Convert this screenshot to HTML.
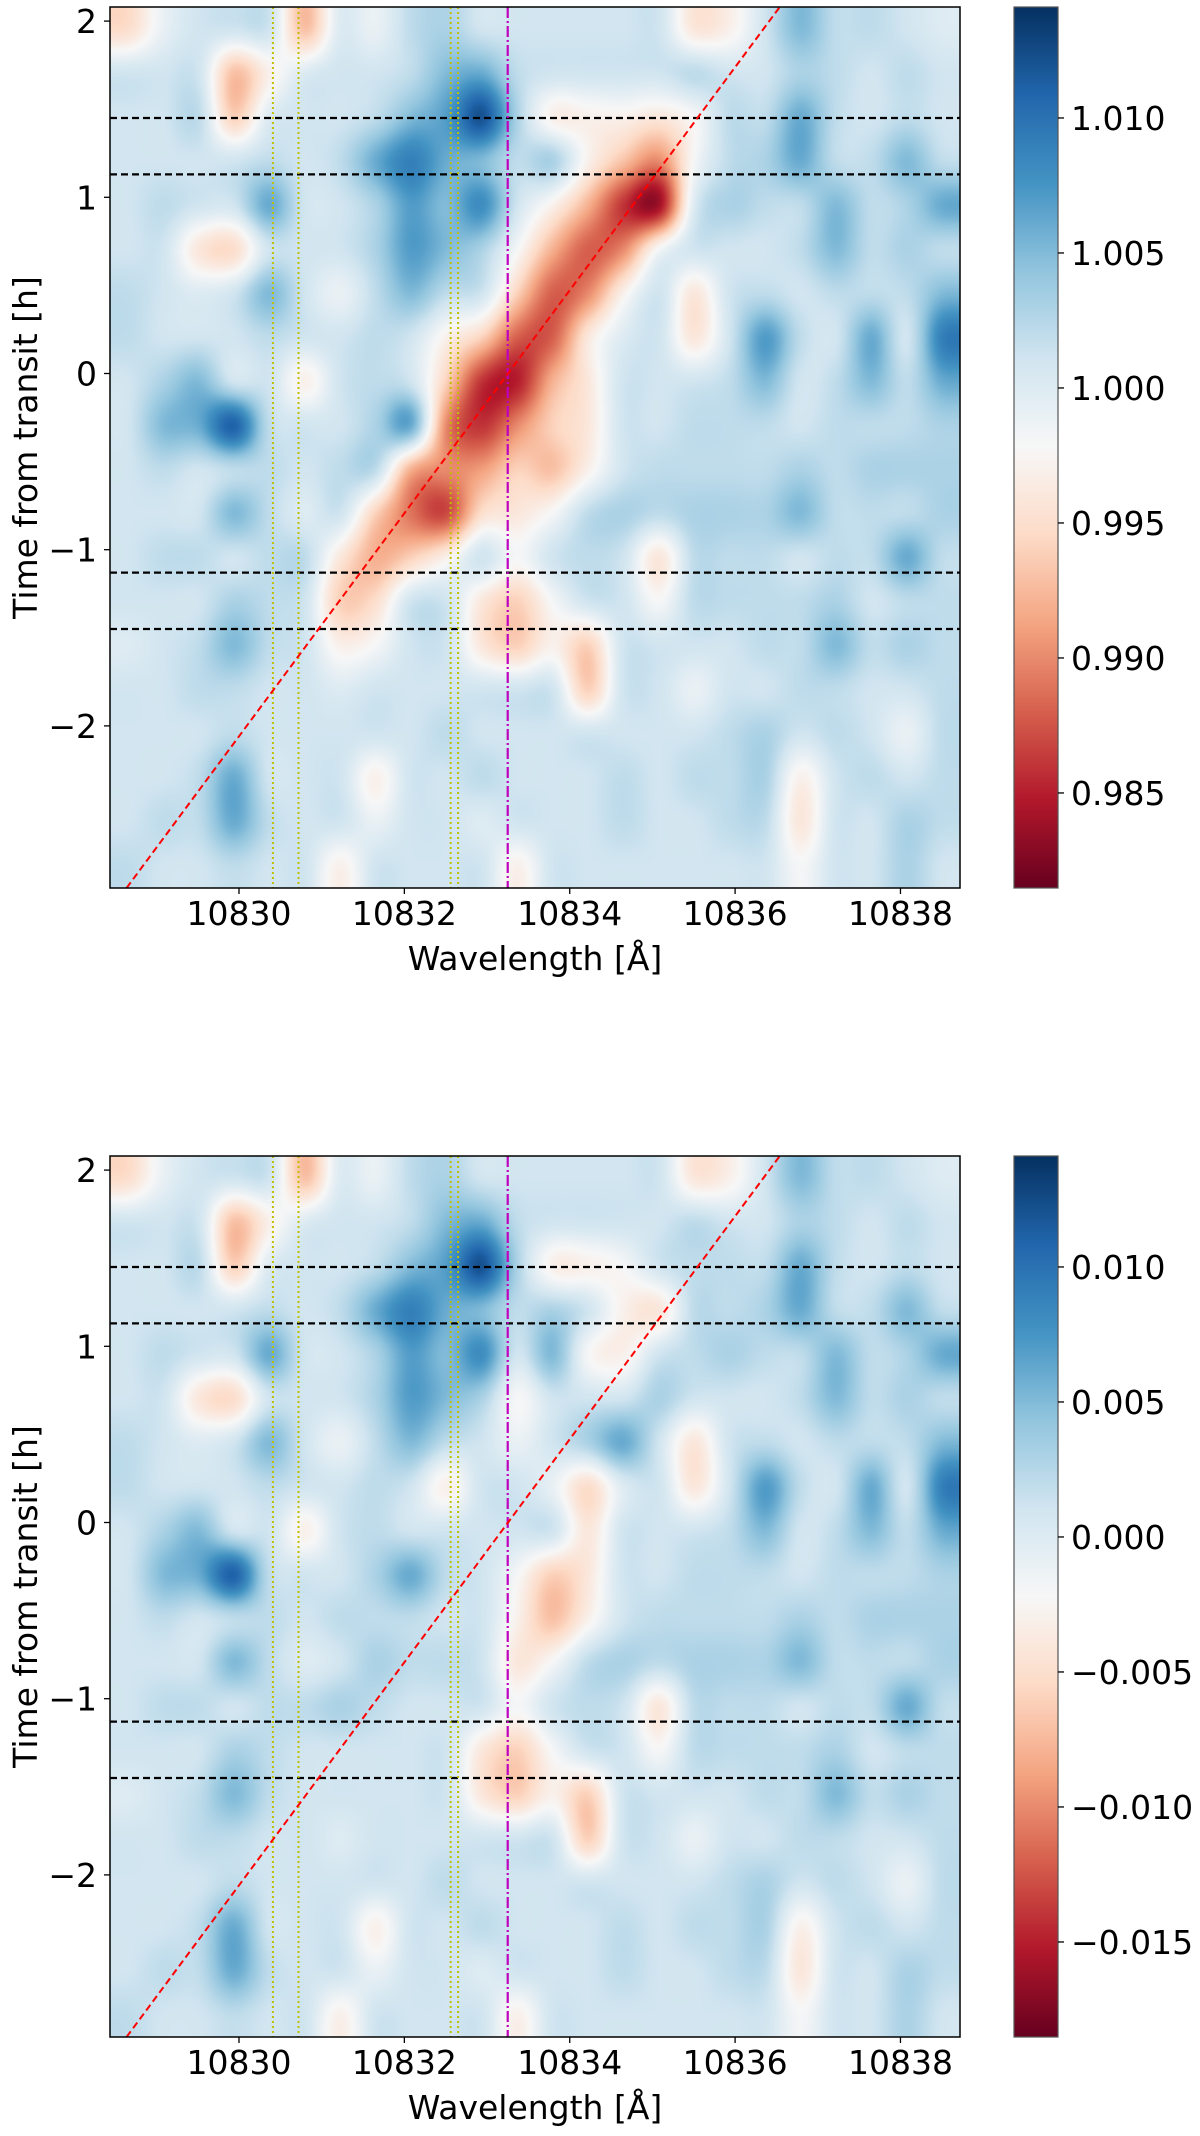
<!DOCTYPE html>
<html>
<head>
<meta charset="utf-8">
<style>
  html,body{margin:0;padding:0;background:#fff;}
  #page{position:relative;width:1200px;height:2136px;overflow:hidden;background:#fff;font-family:"DejaVu Sans","Liberation Sans",sans-serif;}
  canvas{position:absolute;}
  svg{position:absolute;left:0;top:0;}
</style>
</head>
<body>
<div id="page">
  <canvas id="hm1" width="850" height="881" style="left:110px;top:7px;"></canvas>
  <canvas id="hm2" width="850" height="881" style="left:110px;top:1156px;"></canvas>
  <svg id="ov" width="1200" height="2136"></svg>
</div>
<script>
// ---- data ----
const wavelengthTicks = [10830, 10832, 10834, 10836, 10838];
const timeTicks = [2, 1, 0, -1, -2];
const timeTickLabels = ["2", "1", "0", "\u22121", "\u22122"];
const cbTicksTop = [1.010, 1.005, 1.000, 0.995, 0.990, 0.985];
const cbTickLabelsTop = ["1.010", "1.005", "1.000", "0.995", "0.990", "0.985"];
const cbTicksBottom = [0.010, 0.005, 0.000, -0.005, -0.010, -0.015];
const cbTickLabelsBottom = ["0.010", "0.005", "0.000", "\u22120.005", "\u22120.010", "\u22120.015"];
const transitContacts = [1.45, 1.13, -1.13, -1.45];
const telluricLines = [10830.41, 10830.72, 10832.56, 10832.65];
const heliumLine = [10833.25];
const planetTrackTime = [-2.92, 2.08];
const planetTrackWave = [10828.64, 10836.54];
const wavelengthRange = [10828.44, 10838.72];
const timeRange = [-2.92, 2.08];
const colorRangeTop = [0.98148, 1.01411];
const colorRangeBottom = [-0.01852, 0.01411];

// grids in units of 1e-3 (top: flux-1, bottom: residual), rows from top (late time) to bottom
const gridTop = [
[-5,-1,1,1,1,-7,0,-1,2,3,1,1,1,1,1,1,-4,-3,1,5,2,2,1,0],
[1,1,1,-7,-3,0,1,1,2,5,6,2,1,1,1,1,2,1,1,3,2,1,2,1],
[1,1,2,-6,0,1,1,2,5,7,12,3,-3,-3,-3,-4,-2,2,2,6,2,1,2,1],
[1,1,1,1,2,1,2,6,9,6,5,2,3,-3,-7,-10,-2,2,3,6,2,2,5,2],
[1,2,1,1,6,1,1,3,7,5,8,1,-3,-8,-14,-16,0,3,2,2,5,2,3,6],
[1,1,-4,-5,1,1,1,3,7,5,3,-2,-8,-12,-10,-2,1,1,1,2,5,2,3,2],
[2,1,0,1,5,1,-1,2,5,2,1,-6,-12,-10,-3,1,-4,1,2,1,2,2,2,5],
[2,1,1,1,2,1,1,2,1,-3,-6,-12,-12,-4,0,1,-4,1,7,2,1,6,1,9],
[1,3,5,1,1,-3,1,2,1,-6,-14,-15,-8,-4,1,1,1,2,5,1,2,5,2,6],
[1,5,6,11,2,1,1,3,6,-10,-14,-10,-6,-4,1,1,2,2,2,1,2,2,2,3],
[1,2,1,2,2,1,2,2,-8,-10,-9,-6,-7,-3,1,2,2,2,2,3,2,3,3,3],
[1,1,1,5,2,0,1,-6,-11,-13,-5,-4,-2,2,3,2,3,3,3,5,2,2,2,3],
[1,2,2,1,2,2,-4,-8,-6,-3,1,-2,1,2,1,-4,2,2,2,1,2,2,6,2],
[1,1,1,3,2,1,-6,-5,1,1,-4,-6,-2,1,1,-2,2,2,2,2,3,1,2,2],
[0,1,2,5,2,1,-3,-2,1,1,-4,-6,-3,-6,1,1,1,1,2,2,5,2,3,2],
[1,1,2,2,1,1,0,1,1,1,1,1,1,-6,1,1,-1,1,1,2,2,1,1,2],
[1,1,1,2,1,1,1,1,1,2,1,1,1,1,1,1,1,2,3,1,2,1,-1,2],
[1,1,2,6,1,1,1,-3,1,1,2,1,1,1,2,1,2,2,3,-3,1,2,1,2],
[1,2,2,6,2,1,1,-1,1,1,0,1,1,1,2,1,1,2,2,-4,1,1,3,2],
[2,1,1,2,1,1,-3,1,1,1,1,-3,1,1,1,1,1,1,1,-2,1,1,3,1]
];
const gridBottom = [
[-5,-1,1,1,1,-7,0,-1,2,3,1,1,1,1,1,1,-4,-3,1,5,2,2,1,0],
[1,1,1,-7,-3,0,1,1,2,5,6,2,1,1,1,1,2,1,1,3,2,1,2,1],
[1,1,2,-6,0,1,1,2,5,7,12,3,-3,-3,-2,1,2,2,2,6,2,1,2,1],
[1,1,1,1,2,1,2,6,9,6,5,2,3,1,-3,-4,2,2,3,6,2,2,5,2],
[1,2,1,1,6,1,1,3,7,5,8,1,5,-2,-3,1,2,3,2,2,5,2,3,6],
[1,1,-4,-5,1,1,1,3,7,5,3,-2,1,1,1,3,1,1,1,2,5,2,3,2],
[2,1,0,1,5,1,-1,2,5,2,1,-1,1,3,6,1,-4,1,2,1,2,2,2,5],
[2,1,1,1,2,1,1,2,1,-3,1,1,-1,-5,0,1,-4,1,7,2,1,6,1,9],
[1,3,5,1,1,-3,1,2,1,1,1,1,1,-4,1,1,1,2,5,1,2,5,2,6],
[1,5,6,11,2,1,1,3,6,2,1,-2,-6,-4,1,1,2,2,2,1,2,2,2,3],
[1,2,1,2,2,1,2,2,2,1,1,-3,-7,-3,1,2,2,2,2,3,2,3,3,3],
[1,1,1,5,2,0,1,3,2,2,1,-4,-2,2,3,2,3,3,3,5,2,2,2,3],
[1,2,2,1,2,2,3,2,1,1,1,-2,1,2,1,-4,2,2,2,1,2,2,6,2],
[1,1,1,3,2,1,1,1,1,1,-4,-6,-2,1,1,-2,2,2,2,2,3,1,2,2],
[0,1,2,5,2,1,1,1,1,1,-4,-6,-3,-6,1,1,1,1,2,2,5,2,3,2],
[1,1,2,2,1,1,0,1,1,1,1,1,1,-6,1,1,-1,1,1,2,2,1,1,2],
[1,1,1,2,1,1,1,1,1,2,1,1,1,1,1,1,1,2,3,1,2,1,-1,2],
[1,1,2,6,1,1,1,-3,1,1,2,1,1,1,2,1,2,2,3,-3,1,2,1,2],
[1,2,2,6,2,1,1,-1,1,1,0,1,1,1,2,1,1,2,2,-4,1,1,3,2],
[2,1,1,2,1,1,-3,1,1,1,1,-3,1,1,1,1,1,1,1,-2,1,1,3,1]
];

// ---- rendering ----
const RDBU_R = ["#67001f","#b2182b","#d6604d","#f4a582","#fddbc7","#f7f7f7","#d1e5f0","#92c5de","#4393c3","#2166ac","#053061"];
const RGB = RDBU_R.map(h=>[parseInt(h.substr(1,2),16),parseInt(h.substr(3,2),16),parseInt(h.substr(5,2),16)]);
function cmap(n){
  n=Math.max(0,Math.min(1,n));
  const f=n*10, i=Math.min(9,Math.floor(f)), t=f-i;
  const a=RGB[i], b=RGB[i+1];
  return [a[0]+(b[0]-a[0])*t, a[1]+(b[1]-a[1])*t, a[2]+(b[2]-a[2])*t];
}
function cr(p0,p1,p2,p3,t){
  return p1+0.5*t*(p2-p0+t*(2*p0-5*p1+4*p2-p3+t*(3*(p1-p2)+p3-p0)));
}
function drawHeatmap(canvasId, grid, offset, vrange){
  const cv=document.getElementById(canvasId), ctx=cv.getContext('2d');
  const W=cv.width, H=cv.height, R=grid.length, C=grid[0].length;
  const img=ctx.createImageData(W,H);
  const g=(r,c)=>grid[Math.max(0,Math.min(R-1,r))][Math.max(0,Math.min(C-1,c))];
  for(let py=0;py<H;py++){
    const gy=(py+0.5)/H*R-0.5, r=Math.floor(gy), ty=gy-r;
    for(let px=0;px<W;px++){
      const gx=(px+0.5)/W*C-0.5, c=Math.floor(gx), tx=gx-c;
      const rows=[];
      for(let k=-1;k<=2;k++) rows.push(cr(g(r+k,c-1),g(r+k,c),g(r+k,c+1),g(r+k,c+2),tx));
      const v=offset+cr(rows[0],rows[1],rows[2],rows[3],ty)*1e-3;
      const col=cmap((v-vrange[0])/(vrange[1]-vrange[0]));
      const idx=(py*W+px)*4;
      img.data[idx]=col[0];img.data[idx+1]=col[1];img.data[idx+2]=col[2];img.data[idx+3]=255;
    }
  }
  ctx.putImageData(img,0,0);
}

const NS="http://www.w3.org/2000/svg";
const ov=document.getElementById('ov');
function mk(tag,attrs,parent){
  const e=document.createElementNS(NS,tag);
  for(const k in attrs) e.setAttribute(k,attrs[k]);
  (parent||ov).appendChild(e);
  return e;
}
const defs=mk('defs',{});
const grad=mk('linearGradient',{id:'cbgrad',x1:'0',y1:'1',x2:'0',y2:'0'},defs);
RDBU_R.forEach((c,i)=>mk('stop',{offset:(i/10).toString(),'stop-color':c},grad));

function buildPanel(p){
  const L=110, W=850, T=p.top, H=881;
  const xs=l=>L+(l-wavelengthRange[0])/(wavelengthRange[1]-wavelengthRange[0])*W;
  const ys=t=>T+(timeRange[1]-t)/(timeRange[1]-timeRange[0])*H;
  const gp=mk('g',{});
  
  
  const clip=mk('clipPath',{id:'clip'+p.name},defs);
  mk('rect',{x:L,y:T,width:W,height:H},clip);
  const lines=mk('g',{'clip-path':'url(#clip'+p.name+')'},gp);
  transitContacts.forEach(t=>{
    const e=mk('line',{x1:L,x2:L+W,y1:ys(t),y2:ys(t),stroke:'#000','stroke-width':2.2,'stroke-dasharray':'7,4'},lines);
    
    
  });
  telluricLines.forEach(l=>{
    const e=mk('line',{x1:xs(l),x2:xs(l),y1:T,y2:T+H,stroke:'#bfbf00','stroke-width':2,'stroke-dasharray':'2,3'},lines);
    
    
  });
  heliumLine.forEach(l=>{
    const e=mk('line',{x1:xs(l),x2:xs(l),y1:T,y2:T+H,stroke:'#bf00bf','stroke-width':2.2,'stroke-dasharray':'11,3,2,3'},lines);
    
    
  });
  const tr=mk('line',{x1:xs(planetTrackWave[0]),y1:ys(planetTrackTime[0]),x2:xs(planetTrackWave[1]),y2:ys(planetTrackTime[1]),stroke:'#ff0000','stroke-width':2,'stroke-dasharray':'7,4'},lines);
  
  
  const fr=mk('rect',{x:L,y:T,width:W,height:H,fill:'none',stroke:'#000','stroke-width':1.5},gp);
  
  
  wavelengthTicks.forEach(l=>{
    const x=xs(l);
    mk('line',{x1:x,x2:x,y1:T+H,y2:T+H+6,stroke:'#000','stroke-width':1.3},gp);
    const t=mk('text',{x:x,y:T+H+37,'text-anchor':'middle','font-size':33,fill:'#000'},gp);
    t.textContent=l;
    
    
  });
  timeTicks.forEach((v,i)=>{
    const y=ys(v);
    mk('line',{x1:L-6,x2:L,y1:y,y2:y,stroke:'#000','stroke-width':1.3},gp);
    const t=mk('text',{x:L-13,y:y+12,'text-anchor':'end','font-size':33,fill:'#000'},gp);
    t.textContent=timeTickLabels[i];
    
    
  });
  const xt=mk('text',{x:L+W/2,y:T+H+82,'text-anchor':'middle','font-size':33,fill:'#000'},gp);
  xt.textContent='Wavelength [\u00c5]';
  
  
  const yt=mk('text',{x:0,y:0,'text-anchor':'middle','font-size':33,fill:'#000',transform:'translate(37,'+(T+H/2)+') rotate(-90)'},gp);
  yt.textContent='Time from transit [h]';
  
  
  const CX=1014, CW=44;
  const cb=mk('rect',{x:CX,y:T,width:CW,height:H,fill:'url(#cbgrad)',stroke:'#555','stroke-width':1.2},gp);
  
  
  const cy=v=>T+(p.crange[1]-v)/(p.crange[1]-p.crange[0])*H;
  p.cticks.forEach((v,i)=>{
    const y=cy(v);
    mk('line',{x1:CX+CW,x2:CX+CW+6,y1:y,y2:y,stroke:'#000','stroke-width':1.3},gp);
    const t=mk('text',{x:CX+CW+13,y:y+12,'font-size':33,fill:'#000'},gp);
    t.textContent=p.clabels[i];
    
    
  });
}

drawHeatmap('hm1', gridTop, 1, colorRangeTop);
drawHeatmap('hm2', gridBottom, 0, colorRangeBottom);
buildPanel({name:'top', top:7, crange:[colorRangeTop[0],colorRangeTop[1]], cticks:cbTicksTop, clabels:cbTickLabelsTop});
buildPanel({name:'bottom', top:1156, crange:[colorRangeBottom[0],colorRangeBottom[1]], cticks:cbTicksBottom, clabels:cbTickLabelsBottom});
</script>
</body>
</html>
